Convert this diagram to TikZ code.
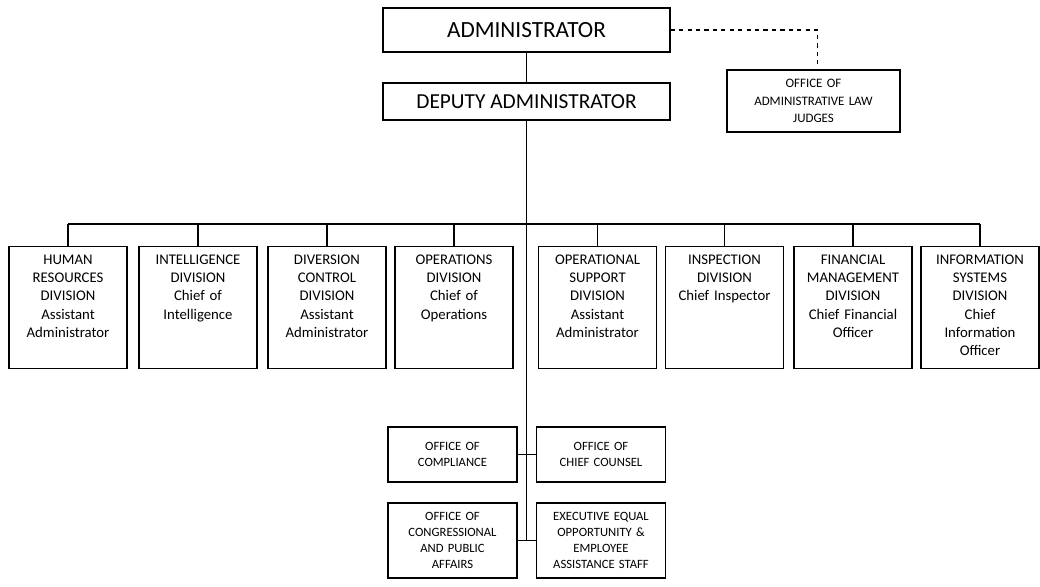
\documentclass[tikz,border=0pt]{standalone}
\usepackage{fontspec}
\setmainfont{Carlito}
\usepackage{tikz}
\usetikzlibrary{positioning}

\begin{document}
\begin{tikzpicture}
            \tikzset{topbox/.style = {draw, line width=0.9pt, minimum width=7.175cm, align=center}}
            \tikzset{divbox/.style = {draw, line width=0.9pt, text width=2.85cm, align=center, inner xsep=0.05cm, inner ysep=0.12cm, text height=0.32cm, text depth=2.48cm, font=\fontsize{10.5}{13}\selectfont}}
            \tikzset{officebox/.style = {draw, line width=0.9pt, minimum width=3.225cm, text width=3.1cm, inner xsep=0.05cm, align=center, font=\fontsize{9}{11.5}\selectfont}}
            \tikzset{link/.style = {line width=0.9pt}}

            \useasboundingbox (0,0) rectangle (26,-14.675);

            % top of the chart
            \node[topbox, minimum height=1.1cm, font=\fontsize{16.5}{18}\selectfont] (admin) at (13.1625,-0.75) {ADMINISTRATOR};
            \node[topbox, minimum height=0.925cm, font=\fontsize{15.2}{17}\selectfont] (deputy) at (13.1625,-2.5375) {DEPUTY ADMINISTRATOR};
            \node[officebox, minimum width=4.325cm, text width=4.1cm, minimum height=1.55cm, font=\fontsize{9.2}{12.5}\selectfont] (judges) at (20.3375,-2.525) {OFFICE OF\\ ADMINISTRATIVE LAW\\ JUDGES};
            \draw[link] (admin) -- (deputy);
            \draw[link, dashed] (admin.east) -| ([xshift=0.1cm]judges.north);

            % divisions
            \coordinate (bus) at (13.1625,-5.6);
            \node[divbox] (div1) at (1.7,-7.6875) {HUMAN\\ RESOURCES\\ DIVISION\\ Assistant\\ Administrator};
            \node[divbox] (div2) at (4.95,-7.6875) {INTELLIGENCE\\ DIVISION\\ Chief of\\ Intelligence};
            \node[divbox] (div3) at (8.175,-7.6875) {DIVERSION\\ CONTROL\\ DIVISION\\ Assistant\\ Administrator};
            \node[divbox] (div4) at (11.35,-7.6875) {OPERATIONS\\ DIVISION\\ Chief of\\ Operations};
            \node[divbox] (div5) at (14.9375,-7.6875) {OPERATIONAL\\ SUPPORT\\ DIVISION\\ Assistant\\ Administrator};
            \node[divbox] (div6) at (18.1125,-7.6875) {INSPECTION\\ DIVISION\\ Chief Inspector};
            \node[divbox] (div7) at (21.325,-7.6875) {FINANCIAL\\ MANAGEMENT\\ DIVISION\\ Chief Financial\\ Officer};
            \node[divbox] (div8) at (24.5,-7.6875) {INFORMATION\\ SYSTEMS\\ DIVISION\\ Chief\\ Information\\ Officer};
            \draw[link] (div1.north |- bus) -- (div8.north |- bus);
            \foreach \i in {1,...,8}
                \draw[link] (div\i.north) -- (div\i.north |- bus);

            % staff offices
            \node[officebox, minimum height=1.375cm] (compliance) at (11.3125,-11.3625) {OFFICE OF\\ COMPLIANCE};
            \node[officebox, minimum height=1.375cm] (counsel) at (15.025,-11.3625) {OFFICE OF\\ CHIEF COUNSEL};
            \node[officebox, minimum height=1.875cm] (congress) at (11.3125,-13.5125) {OFFICE OF\\ CONGRESSIONAL\\ AND PUBLIC\\ AFFAIRS};
            \node[officebox, minimum height=1.875cm] (eeo) at (15.025,-13.5125) {EXECUTIVE EQUAL\\ OPPORTUNITY \&\\ EMPLOYEE\\ ASSISTANCE STAFF};
            \draw[link] (deputy.south) -- (deputy.south |- congress.east);
            \draw[link] (compliance.east) -- (counsel.west);
            \draw[link] (congress.east) -- (eeo.west);
        \end{tikzpicture}
\end{document}
